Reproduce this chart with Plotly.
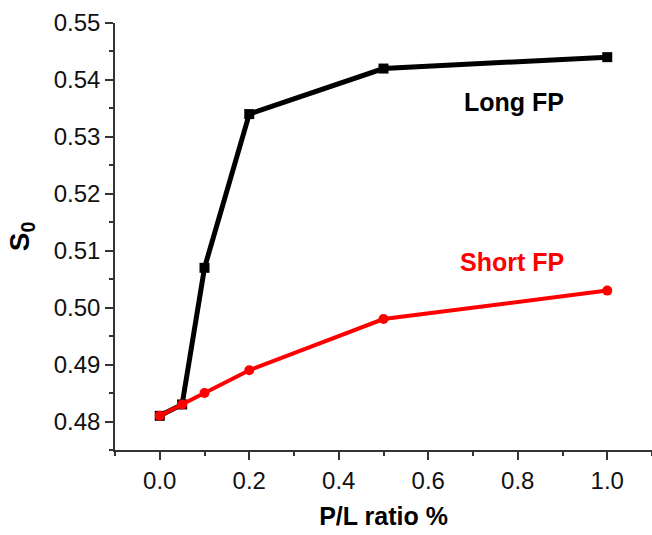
import plotly.graph_objects as go

x_long = [0.0, 0.05, 0.1, 0.2, 0.5, 1.0]
y_long = [0.481, 0.483, 0.507, 0.534, 0.542, 0.544]
x_short = [0.0, 0.05, 0.1, 0.2, 0.5, 1.0]
y_short = [0.481, 0.483, 0.485, 0.489, 0.498, 0.503]

FONT = "Liberation Sans, Arial, sans-serif"

fig = go.Figure()
fig.add_trace(go.Scatter(x=x_long, y=y_long, mode="lines+markers", name="Long FP",
                         line=dict(color="black", width=5),
                         marker=dict(symbol="square", size=10, color="black"),
                         cliponaxis=False))
fig.add_trace(go.Scatter(x=x_short, y=y_short, mode="lines+markers", name="Short FP",
                         line=dict(color="#ff0000", width=4),
                         marker=dict(symbol="circle", size=10, color="#ff0000"),
                         cliponaxis=False))

fig.add_annotation(x=0.792, y=0.5362, text="<b>Long FP</b>", showarrow=False,
                   font=dict(family=FONT, size=25, color="black"))
fig.add_annotation(x=0.787, y=0.5081, text="<b>Short FP</b>", showarrow=False,
                   font=dict(family=FONT, size=25, color="#ff0000"))

axis_common = dict(showline=True, linecolor="#333", linewidth=1.5, showgrid=False,
                   zeroline=False, ticks="outside", ticklen=8, tickwidth=1.5,
                   tickcolor="#333", tickfont=dict(family=FONT, size=24, color="#111"))

fig.update_xaxes(range=[-0.1, 1.1], dtick=0.2, tick0=0, tickformat=".1f",
                 minor=dict(ticks="outside", dtick=0.1, ticklen=4, tickcolor="#333", tickwidth=1.5),
                 title=dict(text="<b>P/L ratio %</b>", font=dict(family=FONT, size=25, color="black"),
                            standoff=15),
                 **axis_common)
fig.update_yaxes(range=[0.475, 0.55], dtick=0.01, tick0=0.48, tickformat=".2f",
                 minor=dict(ticks="outside", dtick=0.005, ticklen=4, tickcolor="#333", tickwidth=1.5),
                 title=dict(text="<b>S<sub>0</sub></b>", font=dict(family=FONT, size=28, color="black"),
                            standoff=16),
                 **axis_common)

fig.update_layout(width=652, height=535, showlegend=False,
                  plot_bgcolor="white", paper_bgcolor="white",
                  margin=dict(l=115, r=0, t=23, b=85))

fig.write_html("out.html")
